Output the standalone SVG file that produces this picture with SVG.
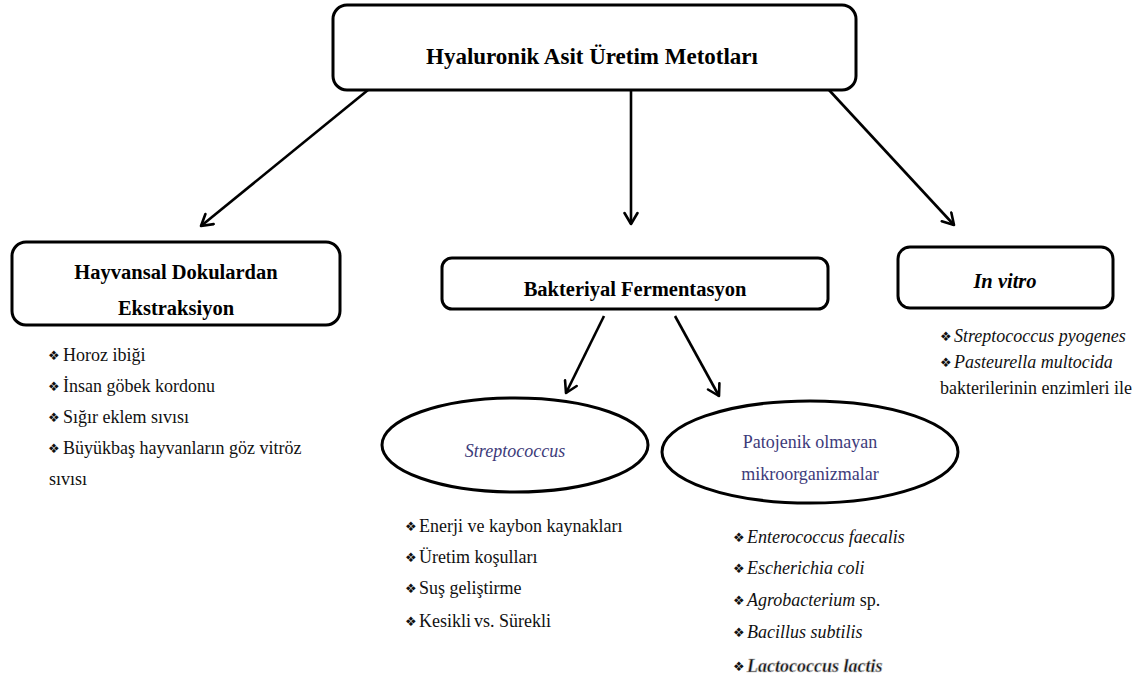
<svg xmlns="http://www.w3.org/2000/svg" width="1138" height="682" viewBox="0 0 1138 682">
<defs>
<marker id="arr" viewBox="0 0 16 16" refX="14" refY="8" markerWidth="16" markerHeight="16" markerUnits="userSpaceOnUse" orient="auto">
<path d="M3,1.5 L14,8 L3,14.5" fill="none" stroke="#000" stroke-width="2.6" stroke-linecap="round" stroke-linejoin="round"/>
</marker>
</defs>

<g id="connectors" stroke="#000" stroke-width="2.6" fill="none">
<line x1="368" y1="90" x2="201" y2="226" marker-end="url(#arr)"/>
<line x1="631" y1="90" x2="631" y2="224" marker-end="url(#arr)"/>
<line x1="829" y1="90" x2="954" y2="225" marker-end="url(#arr)"/>
<line x1="604" y1="316" x2="566" y2="393" marker-end="url(#arr)"/>
<line x1="675" y1="316" x2="719" y2="396" marker-end="url(#arr)"/>
</g>

<g id="node-main">
<rect x="333" y="5" width="523" height="85" rx="14" fill="#fff" stroke="#000" stroke-width="3"/>
<text font-family="Times New Roman, Liberation Serif, serif" font-weight="bold" font-size="23" text-anchor="middle" x="592" y="64">Hyaluronik Asit Üretim Metotları</text>
</g>

<g id="node-hayvansal">
<rect x="12" y="242" width="328" height="83" rx="14" fill="#fff" stroke="#000" stroke-width="3"/>
<text font-family="Times New Roman, Liberation Serif, serif" font-weight="bold" font-size="20.5" text-anchor="middle" x="176" y="279">Hayvansal Dokulardan</text>
<text font-family="Times New Roman, Liberation Serif, serif" font-weight="bold" font-size="20.5" text-anchor="middle" x="176" y="315">Ekstraksiyon</text>
</g>

<g id="node-bakteriyal">
<rect x="442" y="258" width="386" height="51" rx="10" fill="#fff" stroke="#000" stroke-width="3"/>
<text font-family="Times New Roman, Liberation Serif, serif" font-weight="bold" font-size="20.5" text-anchor="middle" x="635" y="296">Bakteriyal Fermentasyon</text>
</g>

<g id="node-invitro">
<rect x="898" y="247" width="215" height="61" rx="12" fill="#fff" stroke="#000" stroke-width="3"/>
<text font-family="Times New Roman, Liberation Serif, serif" font-weight="bold" font-style="italic" font-size="20.5" text-anchor="middle" x="1005" y="288">In vitro</text>
</g>

<g id="node-streptococcus">
<ellipse cx="515" cy="445" rx="133" ry="47" fill="#fff" stroke="#000" stroke-width="3"/>
<text font-family="Times New Roman, Liberation Serif, serif" font-style="italic" font-size="18" fill="#3d3b7a" text-anchor="middle" x="515" y="457">Streptococcus</text>
</g>

<g id="node-patojenik">
<ellipse cx="810" cy="452" rx="148" ry="51" fill="#fff" stroke="#000" stroke-width="3"/>
<text font-family="Times New Roman, Liberation Serif, serif" font-size="18" fill="#3d3b7a" text-anchor="middle" x="810" y="448">Patojenik olmayan</text>
<text font-family="Times New Roman, Liberation Serif, serif" font-size="18" fill="#3d3b7a" text-anchor="middle" x="810" y="480">mikroorganizmalar</text>
</g>

<g id="list-hayvansal" fill="#111">
<text font-family="DejaVu Sans, sans-serif" font-size="13" x="48" y="360">❖</text><text font-family="Times New Roman, Liberation Serif, serif" font-size="18" x="63" y="361">Horoz ibiği</text>
<text font-family="DejaVu Sans, sans-serif" font-size="13" x="48" y="391">❖</text><text font-family="Times New Roman, Liberation Serif, serif" font-size="18" x="63" y="392">İnsan göbek kordonu</text>
<text font-family="DejaVu Sans, sans-serif" font-size="13" x="48" y="422">❖</text><text font-family="Times New Roman, Liberation Serif, serif" font-size="18" x="63" y="423">Sığır eklem sıvısı</text>
<text font-family="DejaVu Sans, sans-serif" font-size="13" x="48" y="453">❖</text><text font-family="Times New Roman, Liberation Serif, serif" font-size="18" x="63" y="454">Büyükbaş hayvanların göz vitröz</text>
<text font-family="Times New Roman, Liberation Serif, serif" font-size="18" x="49" y="485">sıvısı</text>
</g>

<g id="list-streptococcus" fill="#111">
<text font-family="DejaVu Sans, sans-serif" font-size="13" x="405" y="531">❖</text><text font-family="Times New Roman, Liberation Serif, serif" font-size="18" x="419" y="532">Enerji ve kaybon kaynakları</text>
<text font-family="DejaVu Sans, sans-serif" font-size="13" x="405" y="562">❖</text><text font-family="Times New Roman, Liberation Serif, serif" font-size="18" x="419" y="563">Üretim koşulları</text>
<text font-family="DejaVu Sans, sans-serif" font-size="13" x="405" y="593">❖</text><text font-family="Times New Roman, Liberation Serif, serif" font-size="18" x="419" y="594">Suş geliştirme</text>
<text font-family="DejaVu Sans, sans-serif" font-size="13" x="405" y="626">❖</text><text font-family="Times New Roman, Liberation Serif, serif" font-size="18" x="419" y="627">Kesikli<tspan x="474">vs. Sürekli</tspan></text>
</g>

<g id="list-patojenik" fill="#111">
<text font-family="DejaVu Sans, sans-serif" font-size="13" x="733" y="542">❖</text><text font-family="Times New Roman, Liberation Serif, serif" font-size="18" font-style="italic" x="747" y="543">Enterococcus faecalis</text>
<text font-family="DejaVu Sans, sans-serif" font-size="13" x="733" y="573">❖</text><text font-family="Times New Roman, Liberation Serif, serif" font-size="18" font-style="italic" x="747" y="574">Escherichia coli</text>
<text font-family="DejaVu Sans, sans-serif" font-size="13" x="733" y="605">❖</text><text font-family="Times New Roman, Liberation Serif, serif" font-size="18" x="747" y="606"><tspan font-style="italic">Agrobacterium</tspan> sp.</text>
<text font-family="DejaVu Sans, sans-serif" font-size="13" x="733" y="637">❖</text><text font-family="Times New Roman, Liberation Serif, serif" font-size="18" font-style="italic" x="747" y="638">Bacillus subtilis</text>
<text font-family="DejaVu Sans, sans-serif" font-size="13" font-weight="bold" x="733" y="671">❖</text><text font-family="Times New Roman, Liberation Serif, serif" font-size="18" font-style="italic" font-weight="bold" x="747" y="672" stroke="#bbb" stroke-width="0.6">Lactococcus lactis</text>
</g>

<g id="list-invitro" fill="#111">
<text font-family="DejaVu Sans, sans-serif" font-size="13" x="940" y="341">❖</text><text font-family="Times New Roman, Liberation Serif, serif" font-size="18" font-style="italic" x="954" y="342">Streptococcus pyogenes</text>
<text font-family="DejaVu Sans, sans-serif" font-size="13" x="940" y="367">❖</text><text font-family="Times New Roman, Liberation Serif, serif" font-size="18" font-style="italic" x="954" y="368">Pasteurella multocida</text>
<text font-family="Times New Roman, Liberation Serif, serif" font-size="18" x="940" y="394">bakterilerinin enzimleri ile</text>
</g>
</svg>
